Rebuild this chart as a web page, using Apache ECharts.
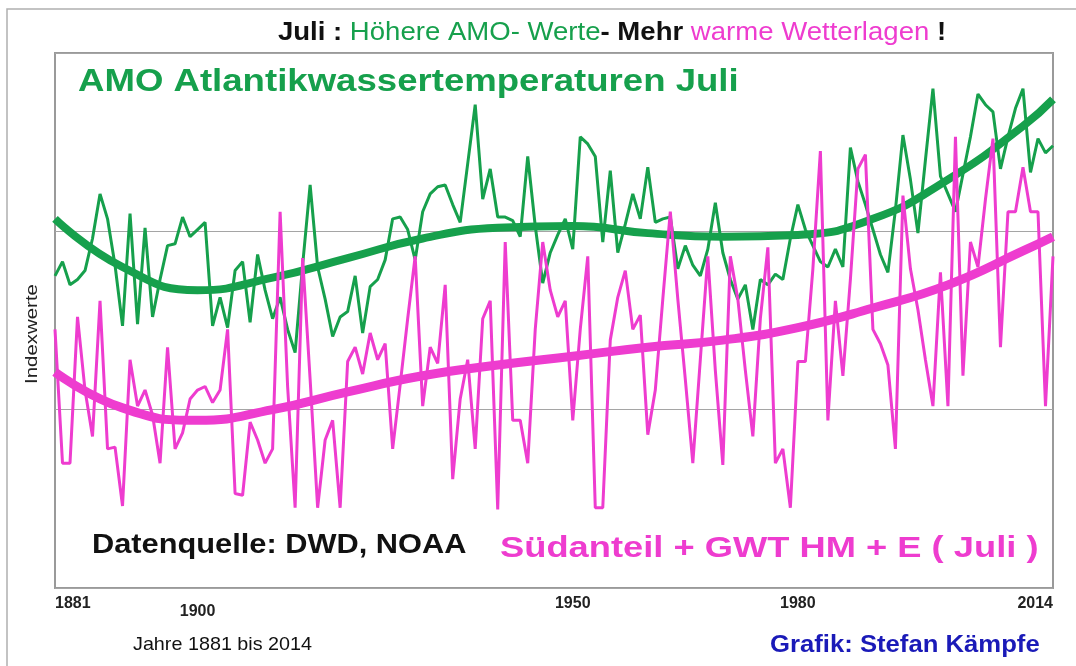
<!DOCTYPE html>
<html lang="de">
<head>
<meta charset="UTF-8">
<title>AMO Juli</title>
<script src="https://cdn.jsdelivr.net/npm/echarts@6/dist/echarts.min.js"></script>
<style>
body{margin:0;padding:0;background:#fff}
#main{width:1076px;height:666px}
</style>
</head>
<body>
<div id="main"></div>
<script>
// Jahre 1881 bis 2014
var firstYear = 1881;
var lastYear = 2014;
var tickYears = [1881, 1900, 1950, 1980, 2014];

// AMO Juli (Indexwerte, aus der Grafik geschaetzt)
var amo = [
  17.5, 18.3, 17.0, 17.3, 17.8, 19.6, 22.1, 20.7, 18.1, 14.7,
  21.0, 14.8, 20.2, 15.2, 17.3, 19.2, 19.3, 20.8, 19.7, 20.1,
  20.5, 14.7, 16.3, 14.6, 17.8, 18.3, 14.9, 18.7, 16.7, 15.1,
  16.3, 14.5, 13.2, 18.1, 22.6, 18.0, 16.2, 14.1, 15.2, 15.5,
  17.5, 14.3, 16.9, 17.3, 18.4, 20.7, 20.8, 20.1, 18.4, 21.1,
  22.1, 22.5, 22.6, 21.5, 20.5, 23.8, 27.1, 21.8, 23.5, 20.8,
  20.8, 20.6, 19.7, 24.2, 20.3, 17.1, 18.8, 19.8, 20.7, 19.0,
  25.3, 24.9, 24.2, 19.4, 23.4, 18.8, 20.4, 22.1, 20.7, 23.6,
  20.5, 20.7, 20.8, 17.9, 19.2, 18.1, 17.5, 19.0, 21.6, 18.8,
  17.3, 16.2, 17.0, 14.5, 17.3, 17.0, 17.6, 17.3, 19.6, 21.5,
  20.1, 19.2, 18.3, 18.0, 19.0, 18.0, 24.7, 22.8, 21.5, 20.1,
  18.7, 17.7, 21.2, 25.4, 22.9, 19.9, 24.0, 28.0, 23.1, 22.1,
  21.1, 23.2, 25.3, 27.7, 27.1, 26.7, 23.5, 25.3, 26.9, 28.0,
  23.3, 25.2, 24.4, 24.8
];

// Suedanteil + GWT HM + E (Juli)
var sued = [
  14.5, 7.0, 7.0, 15.2, 11.1, 8.5, 16.1, 7.8, 7.9, 4.6,
  12.8, 10.2, 11.1, 9.7, 7.0, 13.5, 7.8, 8.7, 10.6, 11.1,
  11.3, 10.4, 11.1, 14.5, 5.3, 5.2, 9.3, 8.3, 7.0, 7.8,
  21.1, 11.3, 4.5, 18.5, 11.7, 4.5, 8.3, 9.4, 4.5, 12.7,
  13.5, 12.0, 14.3, 12.8, 13.7, 7.8, 11.4, 15.1, 18.6, 10.2,
  13.5, 12.6, 17.0, 6.1, 10.6, 12.8, 7.8, 15.1, 16.1, 4.4,
  19.4, 9.4, 9.4, 7.0, 14.5, 19.4, 16.7, 15.2, 16.1, 9.4,
  14.5, 18.6, 4.5, 4.5, 13.9, 16.3, 17.8, 14.5, 15.3, 8.6,
  11.1, 16.2, 21.1, 16.2, 11.7, 7.0, 12.8, 18.6, 12.2, 6.9,
  18.6, 16.2, 12.2, 8.5, 15.1, 19.1, 7.0, 7.8, 4.5, 12.7,
  12.7, 17.9, 24.5, 9.4, 16.1, 11.9, 17.3, 23.5, 24.3, 14.5,
  13.7, 12.5, 7.8, 22.0, 17.9, 15.6, 12.8, 10.2, 17.7, 10.2,
  25.3, 11.9, 19.4, 18.0, 21.8, 25.2, 13.5, 21.1, 21.1, 23.6,
  21.1, 21.1, 10.2, 18.6
];

var trendYears = [1881, 1890, 1900, 1910, 1920, 1930, 1940, 1950, 1960, 1970, 1980, 1990, 2000, 2010, 2014];
var amoTrend = [20.7, 18.0, 16.7, 17.4, 18.5, 19.6, 20.2, 20.3, 19.9, 19.7, 19.8, 20.7, 22.9, 25.9, 27.4];
var suedTrend = [12.1, 10.1, 9.4, 10.0, 11.0, 11.9, 12.5, 13.0, 13.5, 13.9, 14.6, 15.7, 17.0, 18.9, 19.7];

var green = '#16a04c';
var pink = '#ee3ccf';
var font = '"Liberation Sans", Arial, sans-serif';

function pairs(xs, ys) {
  var out = [];
  for (var i = 0; i < ys.length; i++) out.push([xs[i], ys[i]]);
  return out;
}
var years = [];
for (var y = firstYear; y <= lastYear; y++) years.push(y);

var myChart = echarts.init(document.getElementById('main'));
var option = {
  backgroundColor: '#fff',
  animation: false,
  grid: {
    left: 55, right: 23, top: 53, bottom: 78,
    show: true, borderColor: '#9a9a9a', borderWidth: 2
  },
  xAxis: {
    type: 'value',
    min: firstYear,
    max: lastYear,
    axisLine: { show: false },
    axisTick: { show: false },
    splitLine: { show: false },
    axisLabel: {
      customValues: tickYears,
      alignMinLabel: 'left',
      alignMaxLabel: 'right',
      margin: 8,
      formatter: function (v) {
        return v === 1900 ? '{low|' + v + '}' : '{n|' + v + '}';
      },
      rich: {
        n: { fontFamily: font, fontWeight: 'bold', fontSize: 16, color: '#222' },
        low: { fontFamily: font, fontWeight: 'bold', fontSize: 16, color: '#222', padding: [8, 0, 0, 0] }
      }
    }
  },
  yAxis: {
    type: 'value',
    min: 0,
    max: 30,
    interval: 10,
    axisLine: { show: false },
    axisTick: { show: false },
    axisLabel: { show: false },
    splitLine: { lineStyle: { color: '#a5a5a5', width: 1 } }
  },
  graphic: [
    {
      type: 'rect', silent: true,
      shape: { x: 7, y: 9, width: 1070, height: 680 },
      style: { fill: 'none', stroke: '#b0b0b0', lineWidth: 1.5 }
    },
    {
      type: 'text', x: 612, y: 33,
      style: {
        text: '{k|Juli : }{g|Höhere AMO- Werte}{k|- Mehr }{p|warme Wetterlagen}{k| !}',
        align: 'center', verticalAlign: 'middle',
        rich: {
          k: { fontFamily: font, fontSize: 26, fontWeight: 'bold', fill: '#111' },
          g: { fontFamily: font, fontSize: 26, fill: green },
          p: { fontFamily: font, fontSize: 26, fill: pink }
        }
      },
      scaleX: 1.06
    },
    {
      type: 'text', x: 78, y: 82,
      style: {
        text: 'AMO Atlantikwassertemperaturen Juli',
        fontFamily: font, fontWeight: 'bold', fontSize: 31, fill: green,
        align: 'left', verticalAlign: 'middle'
      },
      scaleX: 1.18
    },
    {
      type: 'text', x: 92, y: 546,
      style: {
        text: 'Datenquelle: DWD, NOAA',
        fontFamily: font, fontWeight: 'bold', fontSize: 27, fill: '#111',
        align: 'left', verticalAlign: 'middle'
      },
      scaleX: 1.14
    },
    {
      type: 'text', x: 500, y: 549,
      style: {
        text: 'Südanteil + GWT HM + E ( Juli )',
        fontFamily: font, fontWeight: 'bold', fontSize: 30, fill: pink,
        align: 'left', verticalAlign: 'middle'
      },
      scaleX: 1.21
    },
    {
      type: 'text', x: 133, y: 645,
      style: {
        text: 'Jahre 1881 bis 2014',
        fontFamily: font, fontSize: 19, fill: '#111',
        align: 'left', verticalAlign: 'middle'
      },
      scaleX: 1.04
    },
    {
      type: 'text', x: 770, y: 645,
      style: {
        text: 'Grafik: Stefan Kämpfe',
        fontFamily: font, fontWeight: 'bold', fontSize: 24, fill: '#1a1ab8',
        align: 'left', verticalAlign: 'middle'
      },
      scaleX: 1.07
    },
    {
      type: 'text', x: 32, y: 334, rotation: Math.PI / 2,
      style: {
        text: 'Indexwerte',
        fontFamily: font, fontSize: 17, fill: '#222',
        align: 'center', verticalAlign: 'middle'
      },
      scaleX: 1.2
    }
  ],
  series: [
    {
      name: 'AMO', type: 'line', data: pairs(years, amo),
      symbol: 'none', z: 2,
      lineStyle: { color: green, width: 3 }
    },
    {
      name: 'AMO Trend', type: 'line', data: pairs(trendYears, amoTrend),
      symbol: 'none', smooth: true, z: 3,
      lineStyle: { color: green, width: 8 }
    },
    {
      name: 'Suedanteil', type: 'line', data: pairs(years, sued),
      symbol: 'none', z: 4,
      lineStyle: { color: pink, width: 3 }
    },
    {
      name: 'Suedanteil Trend', type: 'line', data: pairs(trendYears, suedTrend),
      symbol: 'none', smooth: true, z: 5,
      lineStyle: { color: pink, width: 9 }
    }
  ]
};
myChart.setOption(option);
</script>
</body>
</html>
